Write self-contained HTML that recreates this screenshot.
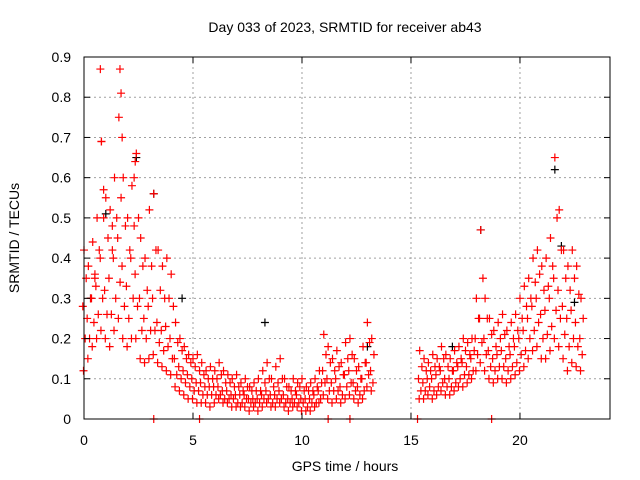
<!DOCTYPE html>
<html><head><meta charset="utf-8"><style>
body{margin:0;background:#fff}
svg{display:block;font-family:"Liberation Sans",sans-serif}
</style></head><body>
<svg id="chart" width="640" height="480" viewBox="0 0 640 480">
<text x="345" y="32" font-size="14" text-anchor="middle">Day 033 of 2023, SRMTID for receiver ab43</text>
<text x="345" y="471" font-size="14" text-anchor="middle">GPS time / hours</text>
<text transform="translate(19,238) rotate(-90)" font-size="14" text-anchor="middle">SRMTID / TECUs</text>
<g id="grid"></g><g id="marks"></g><g id="axes"></g>
</svg>
<script>
const xTicks=[0,5,10,15,20];
const yTicks=[0,0.1,0.2,0.3,0.4,0.5,0.6,0.7,0.8,0.9];
const t1=[0,0.2,0.4,0.6,0.8,1.0,1.2,1.4,1.6,1.8,2.0,2.2,2.4,2.6,2.8,3.0,3.2,3.4,3.6,3.8,4.0,4.2,4.4,4.6,4.8,5.0,5.2,5.4,5.6,5.8,6.0,6.2,6.4,6.6,6.8,7.0,7.2,7.4,7.6,7.8,8.0,8.2,8.4,8.6,8.8,9.0,9.2,9.4,9.6,9.8,10.0,10.2,10.4,10.6,10.8,11.0,11.2,11.4,11.6,11.8,12.0,12.2,12.4,12.6,12.8,13.0,13.2];
const hi1=[0.42,0.38,0.44,0.5,0.69,0.55,0.52,0.6,0.75,0.6,0.5,0.58,0.66,0.45,0.4,0.52,0.56,0.42,0.38,0.4,0.36,0.24,0.2,0.18,0.16,0.15,0.16,0.14,0.12,0.13,0.12,0.14,0.12,0.11,0.1,0.11,0.09,0.1,0.08,0.09,0.1,0.12,0.14,0.1,0.13,0.15,0.1,0.08,0.1,0.09,0.1,0.08,0.09,0.1,0.12,0.21,0.18,0.15,0.17,0.14,0.19,0.2,0.15,0.13,0.18,0.24,0.2];
const um1=[0.35,0.3,0.36,0.42,0.5,0.45,0.42,0.5,0.55,0.48,0.42,0.48,0.5,0.38,0.32,0.38,0.42,0.32,0.3,0.3,0.28,0.19,0.17,0.15,0.14,0.13,0.12,0.11,0.1,0.1,0.1,0.11,0.09,0.09,0.08,0.08,0.07,0.08,0.07,0.07,0.07,0.09,0.1,0.08,0.09,0.1,0.08,0.07,0.07,0.08,0.07,0.07,0.07,0.08,0.09,0.16,0.14,0.12,0.13,0.11,0.15,0.16,0.12,0.1,0.14,0.19,0.16];
const mid1=[0.28,0.25,0.3,0.33,0.4,0.32,0.35,0.4,0.45,0.38,0.33,0.4,0.36,0.3,0.25,0.28,0.3,0.24,0.22,0.23,0.2,0.15,0.13,0.12,0.11,0.1,0.09,0.09,0.08,0.08,0.08,0.08,0.07,0.07,0.06,0.06,0.06,0.06,0.05,0.05,0.05,0.06,0.07,0.06,0.06,0.07,0.06,0.05,0.05,0.06,0.05,0.05,0.05,0.06,0.07,0.12,0.1,0.09,0.1,0.08,0.11,0.12,0.09,0.08,0.1,0.14,0.12];
const lm1=[0.2,0.2,0.24,0.26,0.3,0.26,0.26,0.3,0.34,0.28,0.25,0.3,0.28,0.22,0.2,0.22,0.22,0.19,0.17,0.18,0.15,0.11,0.1,0.09,0.08,0.07,0.07,0.06,0.06,0.06,0.06,0.06,0.05,0.05,0.05,0.04,0.04,0.05,0.04,0.04,0.04,0.05,0.05,0.04,0.05,0.05,0.04,0.04,0.04,0.04,0.04,0.03,0.04,0.04,0.05,0.09,0.07,0.07,0.07,0.06,0.08,0.09,0.07,0.06,0.07,0.11,0.09];
const lo1=[0.12,0.15,0.18,0.2,0.22,0.2,0.18,0.22,0.25,0.2,0.18,0.2,0.2,0.15,0.14,0.15,0.16,0.14,0.13,0.12,0.11,0.08,0.07,0.06,0.05,0.05,0.04,0.04,0.04,0.03,0.04,0.05,0.04,0.04,0.03,0.03,0.03,0.03,0.02,0.03,0.02,0.03,0.04,0.03,0.03,0.04,0.03,0.02,0.03,0.03,0.02,0.02,0.02,0.03,0.04,0.06,0.05,0.04,0.05,0.04,0.05,0.06,0.05,0.04,0.05,0.08,0.07];
const t2=[15.4,15.6,15.8,16.0,16.2,16.4,16.6,16.8,17.0,17.2,17.4,17.6,17.8,18.0,18.2,18.4,18.6,18.8,19.0,19.2,19.4,19.6,19.8,20.0,20.2,20.4,20.6,20.8,21.0,21.2,21.4,21.6,21.8,22.0,22.2,22.4,22.6,22.8];
const hi2=[0.17,0.15,0.14,0.16,0.15,0.18,0.16,0.15,0.17,0.18,0.2,0.19,0.2,0.3,0.47,0.3,0.25,0.22,0.24,0.26,0.22,0.24,0.26,0.3,0.33,0.35,0.4,0.42,0.38,0.4,0.45,0.65,0.52,0.42,0.38,0.42,0.38,0.3];
const um2=[0.13,0.12,0.12,0.13,0.13,0.15,0.13,0.12,0.14,0.15,0.17,0.16,0.17,0.25,0.35,0.25,0.21,0.18,0.2,0.21,0.18,0.2,0.22,0.25,0.28,0.3,0.34,0.36,0.32,0.33,0.38,0.5,0.42,0.35,0.32,0.35,0.31,0.25];
const mid2=[0.1,0.09,0.1,0.1,0.11,0.12,0.1,0.1,0.12,0.13,0.14,0.13,0.15,0.2,0.25,0.2,0.17,0.15,0.16,0.17,0.15,0.16,0.18,0.2,0.22,0.25,0.28,0.3,0.26,0.27,0.3,0.35,0.32,0.28,0.25,0.27,0.24,0.2];
const lm2=[0.07,0.07,0.08,0.07,0.08,0.09,0.08,0.08,0.09,0.1,0.11,0.11,0.12,0.16,0.19,0.16,0.13,0.12,0.13,0.13,0.12,0.13,0.14,0.16,0.17,0.2,0.22,0.24,0.2,0.21,0.23,0.27,0.25,0.21,0.18,0.2,0.18,0.16];
const lo2=[0.05,0.05,0.06,0.05,0.06,0.07,0.06,0.06,0.07,0.08,0.08,0.09,0.1,0.12,0.14,0.12,0.1,0.09,0.1,0.1,0.09,0.1,0.11,0.12,0.13,0.15,0.17,0.18,0.15,0.15,0.17,0.2,0.18,0.15,0.12,0.14,0.13,0.12];
const spikeT=[0.75,1.65,1.7,0.8,1.75,0.9,2.3,2.35,1.3,0.5];
const spikeV=[0.87,0.87,0.81,0.69,0.7,0.57,0.6,0.64,0.48,0.35];
const blackT=[8.3,3.2,21.6,18.2,2.4,1.0,0.3,4.5,13.0,16.9,21.9,22.5];
const blackV=[0.24,0.56,0.62,0.47,0.65,0.51,0.3,0.3,0.18,0.18,0.43,0.29];
const zeroT=[3.2,5.3,11.2,12.2,15.3,18.7];
const zeroV=[0,0,0,0,0,0];

const X0=84,X1=610,Y0=419,Y1=57,XMAX=24.13,YMAX=0.9;
const sx=h=>X0+h/XMAX*(X1-X0);
const sy=v=>Y0-v/YMAX*(Y0-Y1);
const NS='http://www.w3.org/2000/svg';
function mk(tag,attrs,parent){const e=document.createElementNS(NS,tag);for(const k in attrs)e.setAttribute(k,attrs[k]);parent.appendChild(e);return e;}
const grid=document.getElementById('grid'),marks=document.getElementById('marks'),axes=document.getElementById('axes');
xTicks.forEach(t=>{const x=sx(t);
 if(t>0){const g=mk('line',{x1:x,x2:x,y1:Y1,y2:Y0,stroke:'#a0a0a0','stroke-dasharray':'2,3'},grid);
 
 }
 const l=mk('text',{x:x,y:Y0+26,'font-size':14,'text-anchor':'middle'},axes);l.textContent=t;
 
 
 mk('line',{x1:x,x2:x,y1:Y0,y2:Y0-6,stroke:'#000'},axes);mk('line',{x1:x,x2:x,y1:Y1,y2:Y1+6,stroke:'#000'},axes);});
yTicks.forEach(t=>{const y=sy(t);
 if(t>0&&t<0.9){const g=mk('line',{x1:X0,x2:X1,y1:y,y2:y,stroke:'#a0a0a0','stroke-dasharray':'2,3'},grid);
 
 }
 const l=mk('text',{x:X0-13,y:y+5,'font-size':14,'text-anchor':'end'},axes);l.textContent=t;
 
 
 mk('line',{x1:X0,x2:X0+6,y1:y,y2:y,stroke:'#000'},axes);mk('line',{x1:X1,x2:X1-6,y1:y,y2:y,stroke:'#000'},axes);});
const fr=mk('rect',{x:X0,y:Y1,width:X1-X0,height:Y0-Y1,fill:'none',stroke:'#000'},axes);


function plus(h,v,c,name,dx){const x=sx(h)+(dx||0),y=sy(v);
 const p=mk('path',{d:`M${x-4} ${y}h8M${x} ${y-4}v8`,stroke:c,'stroke-width':1.2,fill:'none'},marks);
 
 }
function series(T,V,c,name,dx){T.forEach((h,i)=>plus(h,V[i],c,name,dx));}
series(blackT,blackV,'#000','black-point',0);
series(t1,hi1,'#ff0000','srmtid-point-high',0);
series(t1,um1,'#ff0000','srmtid-point-upper-mid',2.2);
series(t1,mid1,'#ff0000','srmtid-point-mid',-1.2);
series(t1,lm1,'#ff0000','srmtid-point-lower-mid',1.2);
series(t1,lo1,'#ff0000','srmtid-point-low',-0.5);
series(t2,hi2,'#ff0000','srmtid-point-high',0);
series(t2,um2,'#ff0000','srmtid-point-upper-mid',2.2);
series(t2,mid2,'#ff0000','srmtid-point-mid',-1.2);
series(t2,lm2,'#ff0000','srmtid-point-lower-mid',1.2);
series(t2,lo2,'#ff0000','srmtid-point-low',-0.5);
series(spikeT,spikeV,'#ff0000','srmtid-spike',0);
series(zeroT,zeroV,'#ff0000','srmtid-zero',0);
</script>
</body></html>
